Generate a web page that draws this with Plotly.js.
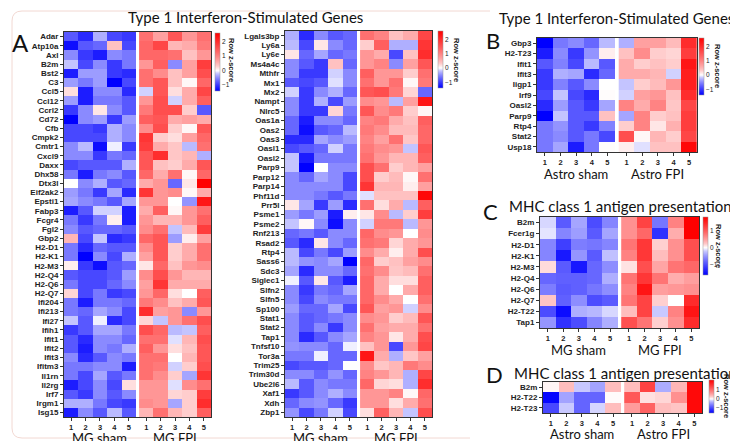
<!DOCTYPE html>
<html><head><meta charset="utf-8">
<script src="https://cdn.plot.ly/plotly-3.0.1.min.js"></script>
<style>html,body{margin:0;padding:0;background:#fff;}#chart{width:730px;height:441px;}</style>
</head><body><div id="chart"></div>
<script>
// ---------- DATA ----------
const groupsMG = ['MG sham', 'MG FPI'];
const groupsAstro = ['Astro sham', 'Astro FPI'];
const replicateLabels = ['1','2','3','4','5'];

const genesA1 = ['Adar','Atp10a','Axl','B2m','Bst2','C3','Ccl5','Ccl12','Ccrl2','Cd72','Cfb','Cmpk2','Cmtr1','Cxcl9','Daxx','Dhx58','Dtx3l','Eif2ak2','Epsti1','Fabp3','Fcgr4','Fgl2','Gbp2','H2-D1','H2-K1','H2-M3','H2-Q4','H2-Q6','H2-Q7','Ifi204','Ifi213','Ifi27','Ifih1','Ifit1','Ifit2','Ifit3','Ifitm3','Il1rn','Il2rg','Irf7','Irgm1','Isg15'];
const shamA1 = [
[-0.8,-1.1,-0.3,-0.9,-1.0],[-1.3,-0.8,-0.7,0.4,-0.9],[-0.5,-1.0,-1.2,-0.5,-0.6],[-0.2,-0.9,-0.5,-1.0,-0.6],
[-1.2,-0.4,-0.4,-1.0,-1.1],[-0.4,-0.6,-0.4,-1.4,-0.9],[0.2,-1.2,-0.5,-0.5,-1.1],[-0.4,-1.2,-0.6,-0.6,-0.8],
[-1.0,-0.5,0.15,-0.5,-0.8],[-1.4,-0.5,-0.4,-1.0,-0.4],[-0.9,-0.9,-1.0,-0.3,-0.5],[-0.9,-0.9,-0.9,-0.3,-0.5],
[-0.5,-0.25,-1.3,-0.05,-1.0],[-0.5,-0.5,-1.0,-0.6,-0.7],[-0.9,-0.8,-0.8,-0.8,-0.3],[-0.6,-1.2,-0.6,-0.5,-0.8],
[0.0,-0.5,-0.3,-0.8,-0.7],[-0.4,-0.6,-1.0,-0.35,-1.1],[-0.35,-0.5,-0.6,-0.8,-0.35],[-1.2,-0.8,-0.15,-0.15,-1.2],
[-0.6,-1.0,-0.6,0.1,-1.2],[-0.5,-0.8,-0.7,-0.7,-0.8],[0.5,-0.9,-0.2,-1.1,-1.0],[-0.6,-1.1,-0.7,-0.8,-0.8],
[-0.6,-1.4,-0.5,-0.9,-0.3],[0.1,-1.0,-1.3,-0.8,-0.7],[-0.8,-0.9,-0.9,-0.8,-0.4],[-0.6,-0.9,-0.9,-0.7,-0.5],
[0.25,-0.9,-0.6,-1.0,-0.9],[-0.6,-1.2,-0.6,-0.6,-0.7],[-0.6,-0.7,-0.35,-0.5,-0.9],[-0.2,-0.8,-0.05,-1.1,-0.9],
[-1.0,-0.8,-0.35,-0.35,-0.6],[-0.8,-1.1,-0.5,-0.5,-0.7],[-0.8,-1.2,-0.5,-0.6,-0.3],[-0.5,-1.1,-0.8,-0.5,-0.6],
[-0.6,-0.6,-0.5,-0.5,-1.2],[-0.6,-0.9,-0.35,-0.8,-0.6],[-1.2,-0.9,-0.5,-0.9,0.2],[-0.8,-1.0,-0.5,-0.8,-0.5],
[-0.3,-0.3,-0.6,-0.9,-1.0],[-1.2,-0.5,-0.8,-0.25,-0.8]];
const fpiA1 = [
[1.2,0.7,1.5,0.8,1.2],[1.3,1.7,0.5,0.6,1.1],[1.3,1.3,1.2,0.4,0.8],[0.8,1.4,-0.5,0.7,1.8],
[1.2,0.9,0.4,0.7,1.6],[1.2,1.5,0.4,0.05,1.3],[-0.15,1.5,0.2,0.6,1.7],[0.8,1.6,-0.15,0.6,1.4],
[1.1,1.6,1.6,0.3,-0.8],[1.4,1.5,0.6,0.7,0.6],[0.9,1.6,0.3,0.05,1.5],[1.9,0.3,0.2,0.7,1.3],
[1.8,0.6,0.35,-0.25,1.2],[1.5,2.0,0.35,0.5,-0.3],[1.5,0.4,0.3,0.6,1.5],[1.3,0.6,1.2,0.05,1.3],
[0.6,0.8,-0.7,0.15,2.6],[1.9,0.8,0.9,0.05,0.6],[0.8,0.8,0.0,-0.45,2.3],[0.6,1.4,0.05,0.8,1.2],
[0.8,0.5,0.5,0.8,1.4],[0.9,1.2,-0.2,0.45,1.8],[1.3,1.5,-0.4,0.1,0.7],[0.9,1.5,0.3,0.6,1.2],
[0.7,1.5,0.3,0.6,1.2],[0.15,1.3,0.4,0.8,0.9],[0.9,1.6,0.8,0.5,0.5],[0.7,1.9,0.6,0.6,0.6],
[0.8,1.3,0.2,0.0,1.4],[1.1,0.9,0.4,0.6,1.5],[2.0,0.7,0.8,-0.5,0.8],[0.25,-0.2,0.8,1.2,1.6],
[1.6,1.3,-0.25,-0.2,1.4],[1.2,1.2,-0.1,0.5,1.6],[1.4,0.8,0.2,0.4,1.5],[1.2,1.2,0.0,0.5,1.5],
[1.2,1.1,-0.15,0.3,1.6],[1.2,0.9,0.3,-0.35,1.9],[0.8,0.8,-0.1,0.9,1.2],[0.8,0.8,0.25,0.3,1.8],
[0.9,0.8,-0.35,0.3,2.0],[0.5,1.2,0.5,0.3,1.4]];

const genesA2 = ['Lgals3bp','Ly6a','Ly6e','Ms4a4c','Mthfr','Mx1','Mx2','Nampt','Nlrc5','Oas1a','Oas2','Oas3','Oasl1','Oasl2','Parp9','Parp12','Parp14','Phf11d','Prr5l','Psme1','Psme2','Rnf213','Rsad2','Rtp4','Sass6','Sdc3','Siglec1','Slfn2','Slfn5','Sp100','Stat1','Stat2','Tap1','Tnfsf10','Tor3a','Trim25','Trim30d','Ube2l6','Xaf1','Xdh','Zbp1'];
const shamA2 = [
[-0.3,-1.1,-0.5,-0.8,-0.7],[-0.25,-0.9,0.15,-0.5,-0.7],[0.15,-0.7,-0.35,-0.7,-0.6],[-0.5,-0.8,-1.0,0.4,-0.7],
[-0.5,-1.0,-1.0,-0.15,-0.5],[-0.8,-0.9,-0.8,-0.1,-0.5],[-0.15,-1.0,-0.5,-0.3,-0.7],[-0.5,-1.0,-0.3,-0.9,-0.4],
[-0.5,-1.0,-1.0,0.25,-0.6],[-0.7,-1.2,-0.5,-0.5,-0.7],[-0.7,-1.3,-0.8,-0.7,-0.25],[-1.1,-1.1,-0.35,-0.5,-0.4],
[-0.9,-0.8,-0.7,-0.15,-0.6],[-0.2,-1.2,-0.6,-0.6,-0.6],[-0.2,-1.4,0.0,-0.5,-0.5],[-0.5,-0.7,-0.35,-0.5,-0.9],
[-0.5,-0.5,-0.5,-0.5,-0.9],[-0.5,-0.5,-0.6,-0.8,-0.6],[0.15,-0.35,-1.0,-0.4,-1.1],[-0.4,-0.6,-0.4,-1.2,0.1],
[-0.2,0.05,-0.5,-1.3,-0.5],[-0.7,-0.6,-0.8,-0.5,-0.5],[-0.8,-1.1,0.15,-0.5,-0.7],[-0.25,-0.9,-0.6,-0.9,-0.4],
[-0.25,-0.45,-0.5,-0.35,-1.4],[-0.35,-1.1,-0.5,-0.5,-0.7],[-0.05,-0.8,0.15,-0.8,-1.2],[-0.5,-1.0,-0.6,-0.7,-0.35],
[-0.5,-0.9,-0.5,-0.6,-0.6],[-0.4,-0.7,-0.7,-0.35,-0.9],[-0.5,-0.8,-0.7,-0.6,-0.5],[-0.5,-0.8,-0.5,-1.0,-0.5],
[-0.5,-1.1,-0.8,-0.5,-0.35],[-0.45,-0.5,-0.5,-0.7,-0.05],[-0.6,-0.6,-0.05,-0.7,-0.7],[-0.9,-0.8,-0.8,-0.7,0.0],
[-0.5,-0.5,-0.7,-0.45,-0.7],[-0.25,-0.8,-0.5,-0.6,-0.6],[-1.0,-0.8,-0.5,-0.3,-0.5],[-0.7,-0.5,-0.45,-0.7,-1.0],
[-0.45,-0.9,-0.6,-0.15,-0.9]];
const fpiA2 = [
[1.2,1.0,0.4,0.6,1.7],[0.3,1.4,-0.3,-0.3,1.9],[0.8,0.6,-0.9,0.4,2.0],[0.8,1.0,-0.5,0.7,1.5],
[1.4,0.8,0.8,0.3,1.2],[1.2,0.8,1.2,0.05,1.1],[1.5,1.6,1.1,0.25,-0.7],[0.9,0.8,-0.25,0.7,2.3],
[1.5,0.9,1.1,0.3,0.05],[1.0,1.1,0.6,0.4,1.4],[1.1,0.9,0.45,0.45,1.3],[1.0,0.7,1.2,0.35,1.3],
[1.1,0.9,0.8,-0.2,1.5],[1.2,0.8,0.5,0.5,1.4],[1.6,1.2,0.3,0.5,0.7],[1.6,0.3,0.45,0.05,1.2],
[1.9,0.5,0.5,0.1,0.7],[-0.1,0.4,0.4,0.4,2.5],[1.2,0.2,0.6,-0.25,1.4],[0.15,0.9,-0.25,0.3,1.8],
[-0.15,1.1,1.1,-0.25,0.8],[1.3,0.9,0.8,0.0,0.9],[1.2,1.1,0.25,0.6,0.8],[0.9,0.6,0.1,0.6,1.6],
[1.3,0.3,0.4,0.7,0.9],[1.2,0.9,0.35,0.45,1.2],[1.3,0.6,0.2,0.2,1.4],[1.3,0.6,0.0,0.6,1.4],
[1.3,0.9,0.6,0.0,1.2],[1.5,0.7,0.8,-0.15,0.9],[0.9,0.8,0.3,0.45,1.5],[1.2,0.7,0.6,0.6,1.2],
[1.0,0.8,0.15,0.6,1.6],[0.4,0.8,-0.9,0.8,1.7],[2.3,0.6,-0.3,0.35,0.7],[0.9,0.35,0.5,1.1,0.9],
[1.0,0.8,0.5,-0.3,1.7],[1.3,0.25,0.2,-0.3,2.0],[0.8,0.8,1.0,0.05,1.3],[0.8,0.8,0.2,0.6,1.2],
[0.2,1.4,0.5,-0.2,1.6]];

const genesB = ['Gbp3','H2-T23','Ifit1','Ifit3','Iigp1','Irf9','Oasl2','Parp9','Rtp4','Stat2','Usp18'];
const shamB = [
[-1.4,-0.6,-0.5,-0.7,-0.25],[-1.2,-0.5,-1.0,-0.45,0.1],[-0.8,-0.55,-0.9,-0.25,-0.8],[-1.0,-0.3,-0.35,-1.1,-0.7],
[-1.0,-0.55,-0.8,-0.5,0.0],[-0.9,-0.2,-0.9,-1.1,0.02],[-1.1,-0.4,-0.8,-1.0,-0.35],[-1.4,-0.2,-0.8,-0.8,0.4],
[-0.6,-0.45,-0.8,-1.0,-0.55],[-0.6,-0.5,-0.8,-0.6,-0.9],[-0.6,-0.35,-1.2,-0.6,0.02]];
const fpiB = [
[-0.3,0.7,0.7,0.45,2.0],[0.4,0.9,0.3,0.25,1.8],[0.6,0.3,0.4,0.3,2.3],[0.6,0.6,0.5,-0.15,2.2],
[-0.2,0.3,0.45,0.8,2.2],[-0.15,0.7,0.8,0.4,2.0],[1.0,0.6,1.0,0.35,1.7],[-0.35,1.0,0.3,0.4,1.8],
[0.3,1.0,0.15,0.55,1.8],[1.6,0.05,0.5,0.3,1.7],[0.1,-0.1,0.4,0.4,2.5]];

const genesC = ['B2m','Fcer1g','H2-D1','H2-K1','H2-M3','H2-Q4','H2-Q6','H2-Q7','H2-T22','Tap1'];
const shamC = [
[-0.15,-0.9,-0.4,-1.0,-0.6],[-0.1,-0.6,-0.45,-0.9,-0.4],[-0.6,-1.1,-0.65,-0.7,-0.6],[-0.6,-1.4,-0.5,-0.9,-0.25],
[0.15,-0.9,-1.4,-0.8,-0.55],[-0.8,-0.85,-0.85,-0.8,-0.35],[-0.65,-0.9,-0.85,-0.7,-0.55],[0.25,-0.85,-0.55,-1.0,-0.9],
[-1.0,-1.5,-0.35,-0.3,-0.15],[-0.5,-1.2,-1.0,-0.6,-0.35]];
const fpiC = [
[0.6,1.2,-0.7,0.7,1.8],[0.6,0.9,-1.2,0.4,1.8],[0.8,1.3,0.2,0.6,1.1],[0.7,1.3,0.3,0.6,1.1],
[0.12,1.1,0.45,0.8,0.9],[0.8,1.3,0.8,0.4,0.5],[0.7,1.6,0.5,0.55,0.6],[0.8,1.2,0.2,0.0,1.4],
[0.3,1.2,-0.2,0.7,1.6],[1.1,0.8,0.2,0.6,1.4]];

const genesD = ['B2m','H2-T22','H2-T23'];
const shamD = [[0.05,0.35,-0.2,-0.4,0.35],[-1.5,-0.4,-0.8,-0.8,0.02],[-1.0,-0.2,-0.8,-0.15,0.35]];
const fpiD = [[0.35,1.4,-0.35,0.4,2.0],[1.2,0.15,0.2,0.7,2.0],[0.6,1.1,0.35,0.3,2.0]];

// ---------- LAYOUT HELPERS ----------
const W = 730, H = 441;
const GAP = 0.22;
const px = v => v / W;
const py = v => 1 - v / H;

const panels = [
  {genes: genesA1, sham: shamA1, fpi: fpiA1, groups: groupsMG, box: [64, 32, 211, 417], cb: [215, 33, 58], lim: [-1.4, 2.6], ticks: [2,1,0,-1], cbLabel: [232, 60], grpY: 438},
  {genes: genesA2, sham: shamA2, fpi: fpiA2, groups: groupsMG, box: [285, 31, 432, 417], cb: [438, 31, 57], lim: [-1.4, 2.6], ticks: [2,1,0,-1], cbLabel: [457, 60], grpY: 438},
  {genes: genesB, sham: shamB, fpi: fpiB, groups: groupsAstro, box: [537, 38, 697, 152], cb: [699, 38, 57], lim: [-1.4, 2.6], ticks: [2,1,0,-1], cbLabel: [717, 66], grpY: 174},
  {genes: genesC, sham: shamC, fpi: fpiC, groups: groupsMG, box: [540, 217, 699, 328], cb: [703, 217, 58], lim: [-1.6, 1.8], ticks: [1,0,-1], cbLabel: [718, 246], grpY: 350},
  {genes: genesD, sham: shamD, fpi: fpiD, groups: groupsAstro, box: [543, 382, 702, 413], cb: [709, 380, 33], lim: [-1.55, 2.1], ticks: [1,0,-1], cbLabel: [727, 396], grpY: 434}
];

// blue-white-red scale, white at 0, slightly gamma-boosted intensity
function scale(lo, hi) {
  const p = -lo / (hi - lo);
  const g = 0.75, N = 8, s = [];
  for (let i = 0; i <= N; i++) {
    const f = 1 - i / N;
    const c = Math.round(255 * (1 - Math.pow(f, g)));
    s.push([p * i / N, 'rgb(' + c + ',' + c + ',255)']);
  }
  for (let i = 1; i <= N; i++) {
    const f = i / N;
    const c = Math.round(255 * (1 - Math.pow(f, g)));
    s.push([p + (1 - p) * i / N, 'rgb(255,' + c + ',' + c + ')']);
  }
  return s;
}

const shamEdges = [0,1,2,3,4,5];
const fpiEdges = shamEdges.map(v => v + 5 + GAP);
const tickvals = [0.5,1.5,2.5,3.5,4.5].concat([0.5,1.5,2.5,3.5,4.5].map(v => v + 5 + GAP));
const ticktext = replicateLabels.concat(replicateLabels);

const traces = [];
const layout = {
  width: W, height: H, margin: {l:0, r:0, t:0, b:0},
  paper_bgcolor: '#fff', plot_bgcolor: '#fff', showlegend: false,
  font: {family: 'Liberation Sans, Arial, sans-serif', color: '#222'},
  annotations: [], shapes: []
};

const labelFont = {family: 'Liberation Sans, Arial, sans-serif', size: 8, color: '#222', weight: 'bold'};
const xtickFont = {family: 'Liberation Sans, Arial, sans-serif', size: 7.5, color: '#222', weight: 'bold'};

panels.forEach((p, i) => {
  const n = i + 1;
  const sfx = n === 1 ? '' : String(n);
  const ca = 'coloraxis' + sfx;
  const [x0, y0, x1, y1] = p.box;
  traces.push({type: 'heatmap', x: shamEdges, y: p.genes, z: p.sham, coloraxis: ca, xaxis: 'x' + sfx, yaxis: 'y' + sfx, hoverinfo: 'skip'});
  traces.push({type: 'heatmap', x: fpiEdges, y: p.genes, z: p.fpi, coloraxis: ca, xaxis: 'x' + sfx, yaxis: 'y' + sfx, hoverinfo: 'skip'});
  layout['xaxis' + sfx] = {
    domain: [px(x0), px(x1)], anchor: 'y' + sfx, range: [0, 10 + GAP],
    tickmode: 'array', tickvals: tickvals, ticktext: ticktext, tickangle: 0,
    ticks: 'outside', ticklen: 3, tickwidth: 1, tickcolor: '#333',
    showline: true, mirror: true, linecolor: '#333', linewidth: 1, showgrid: false, zeroline: false,
    tickfont: xtickFont, fixedrange: true
  };
  layout['yaxis' + sfx] = {
    domain: [py(y1), py(y0)], anchor: 'x' + sfx, type: 'category',
    range: [p.genes.length - 0.5, -0.5], tickmode: 'array', tickvals: p.genes, ticktext: p.genes,
    ticks: 'outside', ticklen: 3, tickwidth: 1, tickcolor: '#333',
    showline: true, mirror: true, linecolor: '#333', linewidth: 1, showgrid: false, zeroline: false,
    tickfont: labelFont, fixedrange: true
  };
  layout[ca] = {
    cmin: p.lim[0], cmax: p.lim[1], colorscale: scale(p.lim[0], p.lim[1]),
    colorbar: {
      x: px(p.cb[0]), xanchor: 'left', y: py(p.cb[1]), yanchor: 'top',
      len: p.cb[2], lenmode: 'pixels', thickness: 5, thicknessmode: 'pixels',
      xpad: 0, ypad: 0, outlinewidth: 0.5, outlinecolor: '#999',
      tickvals: p.ticks, ticks: '', ticklabelpad: 2,
      tickfont: {family: 'Liberation Sans, Arial, sans-serif', size: 6.5, color: '#222'}
    }
  };
  const cellW = (x1 - x0) / (10 + GAP);
  const gFont = {family: 'Lato, Open Sans, sans-serif', size: 13, color: '#111'};
  layout.annotations.push({text: p.groups[0], x: px(x0 + 2.5 * cellW), y: py(p.grpY), xref: 'paper', yref: 'paper', showarrow: false, xanchor: 'center', yanchor: 'middle', font: gFont});
  layout.annotations.push({text: p.groups[1], x: px(x0 + (7.5 + GAP) * cellW), y: py(p.grpY), xref: 'paper', yref: 'paper', showarrow: false, xanchor: 'center', yanchor: 'middle', font: gFont});
  layout.annotations.push({text: 'Row z-score', x: px(p.cbLabel[0]), y: py(p.cbLabel[1]), xref: 'paper', yref: 'paper', showarrow: false, textangle: 90, xanchor: 'center', yanchor: 'middle', font: {family: 'Liberation Sans, Arial, sans-serif', size: 7.5, color: '#222', weight: 'bold'}});
});

function ann(text, x, y, size, xanchor) {
  layout.annotations.push({text: text, x: px(x), y: py(y), xref: 'paper', yref: 'paper', showarrow: false, xanchor: xanchor || 'center', yanchor: 'middle', font: {family: 'Lato, Open Sans, sans-serif', size: size, color: '#111'}});
}
ann('Type 1 Interferon-Stimulated Genes', 245, 17, 15);
ann('A', 20, 42, 24);
ann('Type 1 Interferon-Stimulated Genes', 497, 18, 15, 'left');
ann('B', 493, 41, 22);
ann('MHC class 1 antigen presentation', 507, 206, 15, 'left');
ann('C', 491, 212, 22);
ann('MHC class 1 antigen presentation', 512, 373, 15, 'left');
ann('D', 494, 374, 22);

layout.shapes.push({type: 'path', xref: 'paper', yref: 'paper', path: 'M ' + px(490) + ',' + py(11) + ' L ' + px(22) + ',' + py(11) + ' Q ' + px(12) + ',' + py(11) + ' ' + px(12) + ',' + py(21) + ' L ' + px(12) + ',' + py(428) + ' Q ' + px(12) + ',' + py(438) + ' ' + px(22) + ',' + py(438) + ' L ' + px(470) + ',' + py(438), line: {color: '#f2d8d2', width: 1}, layer: 'below'});

Plotly.newPlot('chart', traces, layout, {staticPlot: true, displayModeBar: false});
</script>
</body></html>
